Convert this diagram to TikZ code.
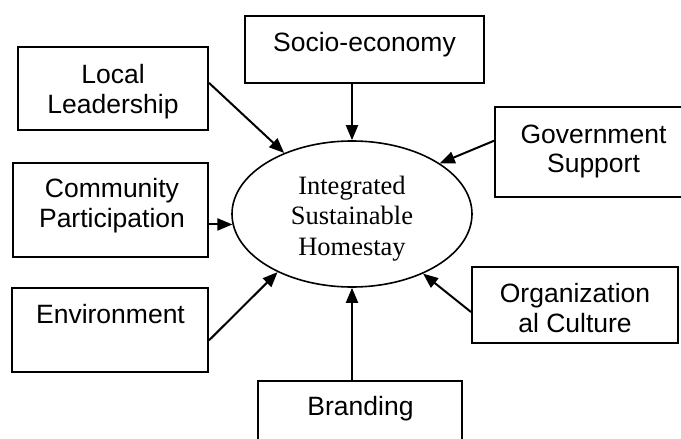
\documentclass[tikz,border=0pt]{standalone}
\usepackage{fontspec}
\setmainfont{Liberation Serif}
\setsansfont{Liberation Sans}
\usetikzlibrary{arrows.meta,shapes.geometric,calc}
\begin{document}
\begin{tikzpicture}[x=1pt,y=-1pt,
  box/.style={draw,line width=2pt,inner sep=0pt,rectangle},
  lbl/.style={font=\sffamily\fontsize{26.5}{30}\selectfont,anchor=base,inner sep=0pt},
  elbl/.style={font=\rmfamily\fontsize{26.5}{30}\selectfont,anchor=base,inner sep=0pt},
  arr/.style={line width=2pt,-{Triangle[length=15pt,width=12pt]}},
]
\useasboundingbox (0,0) rectangle (681,439);
\clip (0,0) rectangle (681,439);

% central ellipse
\node[draw,ellipse,line width=1.6pt,minimum width=240pt,minimum height=146pt,inner sep=0pt] (ell) at (352,214) {};
\node[elbl] (e1) at (352,194) {Integrated};
\node[elbl] (e2) at (352,224.5) {Sustainable};
\node[elbl] (e3) at (352,255) {Homestay};

% boxes
\node[box,minimum width=239pt,minimum height=67pt] (soc) at (364.5,49.5) {};
\node[lbl] (soct) at (364.5,52) {Socio-economy};

\node[box,minimum width=190pt,minimum height=83pt] (lead) at (113,88.5) {};
\node[lbl] (leadt1) at (113,83) {Local};
\node[lbl] (leadt2) at (113,113) {Leadership};

\node[box,minimum width=197pt,minimum height=90pt] (gov) at (593.5,152) {};
\node[lbl] (govt1) at (593.5,143) {Government};
\node[lbl] (govt2) at (593.5,172) {Support};

\node[box,minimum width=195pt,minimum height=94pt] (comm) at (110.5,210) {};
\node[lbl] (commt1) at (112,197) {Community};
\node[lbl] (commt2) at (112,227) {Participation};

\node[box,minimum width=196pt,minimum height=84pt] (env) at (110,330) {};
\node[lbl] (envt) at (110.5,323) {Environment};

\node[box,minimum width=206pt,minimum height=76pt] (org) at (575,305) {};
\node[lbl] (orgt1) at (575,302) {Organization};
\node[lbl] (orgt2) at (575,332) {al Culture};

\node[box,minimum width=204pt,minimum height=72pt] (brand) at (360,417) {};
\node[lbl] (brandt) at (360.5,415) {Branding};

% connectors
\draw[arr] (ell.90 |- soc.south) -- (ell.90);
\draw[arr] ($(lead.north east)!0.434!(lead.south east)$) -- (ell.138);
\draw[arr] ($(gov.north west)!0.378!(gov.south west)$) -- (ell.30);
\draw[arr] (comm.east |- ell.185) -- (ell.185);
\draw[arr] ($(env.north east)!0.62!(env.south east)$) -- (ell.218);
\draw[arr] ($(org.north west)!0.59!(org.south west)$) -- (ell.320);
\draw[arr] (ell.270 |- brand.north) -- (ell.270);
\end{tikzpicture}
\end{document}
